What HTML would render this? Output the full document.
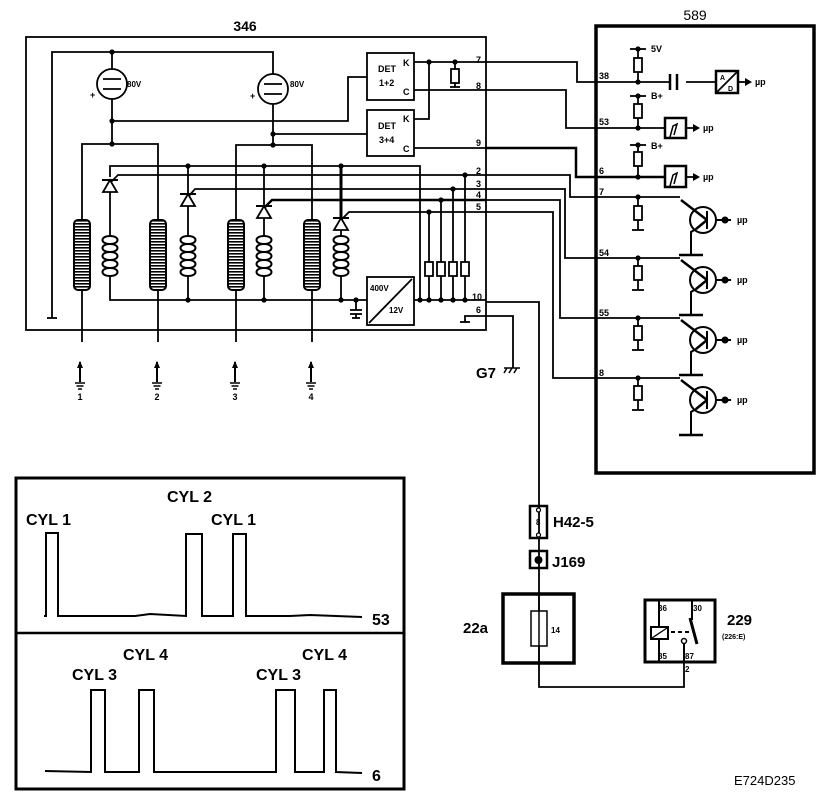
<!DOCTYPE html>
<html><head><meta charset="utf-8"><style>
html,body{margin:0;padding:0;background:#fff;}
svg{display:block;font-family:"Liberation Sans",Arial,sans-serif;}
text{fill:#000;}
</style></head><body>
<svg width="832" height="808" viewBox="0 0 832 808" xmlns="http://www.w3.org/2000/svg">
<defs>
<pattern id="hl" width="4" height="3" patternUnits="userSpaceOnUse"><rect width="4" height="3" fill="#fff"/><rect y="0" width="4" height="1.6" fill="#000"/></pattern>
<g id="lcoil"><rect x="-8" y="0" width="16" height="70" rx="4" fill="url(#hl)" stroke="#000" stroke-width="2"/></g>
<g id="scoil" fill="none" stroke="#000" stroke-width="2">
<path d="M0,0 C-10,0 -10,8 0,8 C-10,8 -10,16 0,16 C-10,16 -10,24 0,24 C-10,24 -10,32 0,32 C-10,32 -10,40 0,40 M0,0 C10,0 10,8 0,8 C10,8 10,16 0,16 C10,16 10,24 0,24 C10,24 10,32 0,32 C10,32 10,40 0,40"/>
</g>
<g id="diode"><path d="M-7,6 L7,6 L0,-6 Z" fill="#fff" stroke="#000" stroke-width="1.8"/><line x1="-8" y1="-6" x2="8" y2="-6" stroke="#000" stroke-width="2"/></g>
<g id="res"><rect x="-4" y="0" width="8" height="14" fill="#fff" stroke="#000" stroke-width="1.8"/></g>
<g id="dot"><circle r="2.6" fill="#000"/></g>
<g id="trans" fill="none" stroke="#000" stroke-width="2"><circle r="13"/><line x1="4" y1="-9" x2="4" y2="9"/><line x1="-22" y1="-20" x2="4" y2="0" stroke-width="2.5"/><line x1="4" y1="0" x2="-7" y2="9" stroke-width="2.5"/><path d="M-7,9 L-12,12 L-12,35" /><line x1="-24" y1="35" x2="0" y2="35" stroke-width="2.5"/><line x1="13" y1="0" x2="28" y2="0"/><circle cx="22" cy="0" r="2.5" fill="#000"/></g>
<g id="gnd"><line x1="0" y1="0" x2="0" y2="-20" stroke="#000" stroke-width="2"/><path d="M-3,-14 L0,-21 L3,-14Z" fill="#000"/><line x1="-5" y1="1" x2="5" y2="1" stroke="#000" stroke-width="1.5"/><line x1="-3.5" y1="4" x2="3.5" y2="4" stroke="#000" stroke-width="1.5"/><line x1="-2" y1="7" x2="2" y2="7" stroke="#000" stroke-width="1.5"/></g>
</defs>

<!-- 346 box -->
<text x="245" y="31" font-size="14" font-weight="bold" text-anchor="middle">346</text>
<rect x="26" y="37" width="460" height="293" fill="none" stroke="#000" stroke-width="1.8"/>

<g fill="none" stroke="#000" stroke-width="1.8">
<path d="M52,318 L52,52 L273,52 L273,74"/>
<line x1="47" y1="318" x2="57" y2="318"/>
<line x1="112" y1="52" x2="112" y2="69"/>
<line x1="112" y1="99" x2="112" y2="144"/>
<line x1="273" y1="104" x2="273" y2="145"/>
<path d="M112,121 L348,121 L348,77 L367,77"/>
<path d="M273,134 L367,134"/>
<path d="M82,220 L82,144 L158,144 L158,220"/>
<path d="M236,220 L236,145 L312,145 L312,220"/>
<line x1="82" y1="290" x2="82" y2="342"/><line x1="158" y1="290" x2="158" y2="342"/><line x1="236" y1="290" x2="236" y2="342"/><line x1="312" y1="290" x2="312" y2="342"/>
<!-- top 166 rail -->
<path d="M110,177 L110,166 L420,166 L420,300"/>
<line x1="188" y1="166" x2="188" y2="194"/>
<line x1="264" y1="166" x2="264" y2="206"/>
<line x1="341" y1="166" x2="341" y2="218" stroke-width="3"/>
<!-- diode lines -->
<path d="M110,183 L118,175 L486,175"/>
<path d="M188,197 L195,189 L486,189"/>
<path d="M264,208 L272,200 L486,200" stroke-width="2.5"/>
<path d="M341,220 L349,212 L486,212"/>
<line x1="110" y1="189" x2="110" y2="236"/>
<line x1="188" y1="203" x2="188" y2="236"/>
<line x1="264" y1="214" x2="264" y2="236"/>
<line x1="341" y1="226" x2="341" y2="236"/>
<!-- bottom rail -->
<path d="M110,276 L110,300 L367,300"/>
<line x1="188" y1="276" x2="188" y2="300"/><line x1="264" y1="276" x2="264" y2="300"/><line x1="341" y1="276" x2="341" y2="300"/>
<path d="M414,300 L486,300"/>
<line x1="356" y1="300" x2="356" y2="310"/><line x1="350" y1="310" x2="362" y2="310"/><line x1="350" y1="314" x2="362" y2="314"/><line x1="356" y1="314" x2="356" y2="318"/><line x1="352" y1="318" x2="360" y2="318"/>
<line x1="429" y1="212" x2="429" y2="300"/><line x1="441" y1="200" x2="441" y2="300"/><line x1="453" y1="189" x2="453" y2="300"/><line x1="465" y1="175" x2="465" y2="300"/>
<!-- DET -->
<rect x="367" y="53" width="47" height="47"/>
<rect x="367" y="110" width="47" height="46"/>
<path d="M414,62 L486,62"/><path d="M429,62 L429,119 L414,119"/>
<line x1="455" y1="62" x2="455" y2="70"/><line x1="455" y1="82" x2="455" y2="87"/><line x1="450" y1="87" x2="460" y2="87"/>
<line x1="414" y1="90" x2="486" y2="90"/>
<line x1="414" y1="148" x2="486" y2="148"/>
<!-- converter -->
<rect x="367" y="277" width="47" height="48"/><line x1="369" y1="323" x2="412" y2="279"/>
<!-- pin 6 ground -->
<path d="M465,322 L465,316 L513,316 L513,368"/><line x1="460" y1="322" x2="470" y2="322"/>
</g>
<!-- tubes -->
<g fill="#fff" stroke="#000" stroke-width="1.8">
<circle cx="112" cy="84" r="15"/><circle cx="273" cy="89" r="15"/>
</g>
<g stroke="#000" stroke-width="1.8"><line x1="103" y1="79" x2="121" y2="79"/><line x1="103" y1="89" x2="121" y2="89"/><line x1="264" y1="84" x2="282" y2="84"/><line x1="264" y1="94" x2="282" y2="94"/></g>
<text x="127" y="87" font-size="8" font-weight="bold">80V</text><text x="290" y="87" font-size="8" font-weight="bold">80V</text>
<text x="90" y="98" font-size="9" font-weight="bold">+</text><text x="250" y="99" font-size="9" font-weight="bold">+</text>
<!-- coils -->
<use href="#lcoil" x="82" y="220"/><use href="#lcoil" x="158" y="220"/><use href="#lcoil" x="236" y="220"/><use href="#lcoil" x="312" y="220"/>
<use href="#scoil" x="110" y="236"/><use href="#scoil" x="188" y="236"/><use href="#scoil" x="264" y="236"/><use href="#scoil" x="341" y="236"/>
<use href="#diode" x="110" y="186"/><use href="#diode" x="188" y="200"/><use href="#diode" x="264" y="212"/><use href="#diode" x="341" y="224"/>
<use href="#res" x="429" y="262"/><use href="#res" x="441" y="262"/><use href="#res" x="453" y="262"/><use href="#res" x="465" y="262"/>
<use href="#res" x="455" y="69"/>
<g>
<use href="#dot" x="112" y="52"/><use href="#dot" x="112" y="121"/><use href="#dot" x="112" y="144"/><use href="#dot" x="273" y="134"/><use href="#dot" x="273" y="145"/>
<use href="#dot" x="188" y="166"/><use href="#dot" x="264" y="166"/><use href="#dot" x="341" y="166"/>
<use href="#dot" x="188" y="300"/><use href="#dot" x="264" y="300"/><use href="#dot" x="341" y="300"/><use href="#dot" x="356" y="300"/>
<use href="#dot" x="420" y="300"/><use href="#dot" x="429" y="300"/><use href="#dot" x="441" y="300"/><use href="#dot" x="453" y="300"/><use href="#dot" x="465" y="300"/>
<use href="#dot" x="429" y="212"/><use href="#dot" x="441" y="200"/><use href="#dot" x="453" y="189"/><use href="#dot" x="465" y="175"/>
<use href="#dot" x="429" y="62"/><use href="#dot" x="455" y="62"/>
</g>
<g font-size="9" font-weight="bold">
<text x="378" y="72">DET</text><text x="379" y="86">1+2</text><text x="403" y="66">K</text><text x="403" y="95">C</text>
<text x="378" y="129">DET</text><text x="379" y="143">3+4</text><text x="403" y="122">K</text><text x="403" y="152">C</text>
<text x="370" y="291" font-size="8">400V</text><text x="389" y="313" font-size="8">12V</text>
<text x="476" y="63">7</text><text x="476" y="89">8</text><text x="476" y="146">9</text>
<text x="476" y="174">2</text><text x="476" y="187">3</text><text x="476" y="198">4</text><text x="476" y="210">5</text>
<text x="472" y="300">10</text><text x="476" y="313">6</text>
</g>
<!-- cylinder grounds -->
<use href="#gnd" x="80" y="382"/><use href="#gnd" x="157" y="382"/><use href="#gnd" x="235" y="382"/><use href="#gnd" x="311" y="382"/>
<g font-size="9" font-weight="bold" text-anchor="middle"><text x="80" y="400">1</text><text x="157" y="400">2</text><text x="235" y="400">3</text><text x="311" y="400">4</text></g>
<text x="476" y="378" font-size="15" font-weight="bold">G7</text>
<path d="M504,368 L520,368 M507,368 L504,373 M512,368 L509,373 M517,368 L514,373" stroke="#000" stroke-width="1.5" fill="none"/>

<!-- 589 -->
<text x="695" y="20" font-size="14" text-anchor="middle">589</text>
<rect x="596" y="26" width="218" height="447" fill="none" stroke="#000" stroke-width="3.5"/>
<g fill="none" stroke="#000" stroke-width="1.8">
<path d="M486,62 L577,62 L577,82 L670,82"/><line x1="686" y1="82" x2="716" y2="82"/>
<line x1="670" y1="74" x2="670" y2="90" stroke-width="2.5"/><line x1="677" y1="74" x2="677" y2="90" stroke-width="2.5"/>
<rect x="716" y="71" width="22" height="22" stroke-width="2.5"/><line x1="717" y1="92" x2="737" y2="72"/>
<path d="M486,90 L566,90 L566,128 L665,128"/>
<rect x="665" y="118" width="21" height="20" stroke-width="2.5"/>
<path d="M486,148 L576,148 L576,177 L665,177" stroke-width="2.5"/>
<rect x="665" y="166" width="21" height="21" stroke-width="2.5"/>
<path d="M486,175 L570,175 L570,197 L680,197"/>
<path d="M486,189 L565,189 L565,258 L680,258"/>
<path d="M486,200 L560,200 L560,318 L680,318"/>
<path d="M486,212 L553,212 L553,378 L680,378"/>
<line x1="630" y1="49" x2="646" y2="49"/><line x1="638" y1="49" x2="638" y2="82"/>
<line x1="630" y1="96" x2="646" y2="96"/><line x1="638" y1="96" x2="638" y2="128"/>
<line x1="630" y1="145" x2="646" y2="145"/><line x1="638" y1="145" x2="638" y2="177"/>
<line x1="638" y1="197" x2="638" y2="230"/><line x1="632" y1="230" x2="644" y2="230"/>
<line x1="638" y1="258" x2="638" y2="290"/><line x1="632" y1="290" x2="644" y2="290"/>
<line x1="638" y1="318" x2="638" y2="350"/><line x1="632" y1="350" x2="644" y2="350"/>
<line x1="638" y1="378" x2="638" y2="410"/><line x1="632" y1="410" x2="644" y2="410"/>
<path d="M670,137 L673,126 L677,124 L674,135" stroke-width="1.5"/>
<path d="M670,186 L673,175 L677,173 L674,184" stroke-width="1.5"/>
<line x1="738" y1="82" x2="745" y2="82"/><line x1="686" y1="128" x2="693" y2="128"/><line x1="686" y1="177" x2="693" y2="177"/>
<!-- 10 -> H42 -->
<path d="M486,302 L539,302 L539,687 L684,687 L684,662"/>
</g>
<g fill="#000"><path d="M745,78 L752,82 L745,86Z"/><path d="M693,124 L700,128 L693,132Z"/><path d="M693,173 L700,177 L693,181Z"/></g>
<use href="#res" x="638" y="58"/><use href="#res" x="638" y="104"/><use href="#res" x="638" y="152"/>
<use href="#res" x="638" y="206"/><use href="#res" x="638" y="266"/><use href="#res" x="638" y="326"/><use href="#res" x="638" y="386"/>
<use href="#dot" x="638" y="49"/><use href="#dot" x="638" y="82"/><use href="#dot" x="638" y="96"/><use href="#dot" x="638" y="128"/><use href="#dot" x="638" y="145"/><use href="#dot" x="638" y="177"/>
<use href="#dot" x="638" y="197"/><use href="#dot" x="638" y="258"/><use href="#dot" x="638" y="318"/><use href="#dot" x="638" y="378"/>
<use href="#trans" x="703" y="220"/><use href="#trans" x="703" y="280"/><use href="#trans" x="703" y="340"/><use href="#trans" x="703" y="400"/>
<g font-size="9" font-weight="bold">
<text x="651" y="52">5V</text><text x="651" y="99">B+</text><text x="651" y="149">B+</text>
<text x="599" y="79">38</text><text x="599" y="125">53</text><text x="599" y="174">6</text><text x="599" y="195">7</text>
<text x="599" y="256">54</text><text x="599" y="316">55</text><text x="599" y="376">8</text>
<text x="755" y="85">µp</text><text x="703" y="131">µp</text><text x="703" y="180">µp</text>
<text x="737" y="223">µp</text><text x="737" y="283">µp</text><text x="737" y="343">µp</text><text x="737" y="403">µp</text>
<text x="720" y="80" font-size="7">A</text><text x="728" y="91" font-size="7">D</text>
</g>

<!-- H42 / J169 / 22a / 229 -->
<g fill="none" stroke="#000" stroke-width="2.5">
<rect x="530" y="506" width="17" height="32"/>
<rect x="530" y="551" width="17" height="17"/>
<rect x="503" y="594" width="71" height="69" stroke-width="3.5"/>
<rect x="645" y="600" width="70" height="62" stroke-width="3"/>
</g>
<rect x="531" y="611" width="16" height="35" fill="#fff" stroke="#000" stroke-width="1.5"/>
<line x1="539" y1="594" x2="539" y2="663" stroke="#000" stroke-width="1.5"/>
<circle cx="538.5" cy="510" r="2" fill="#fff" stroke="#000" stroke-width="1.2"/><circle cx="538.5" cy="535" r="2" fill="#fff" stroke="#000" stroke-width="1.2"/>
<circle cx="538.5" cy="560" r="4" fill="#000"/>
<g stroke="#000" stroke-width="2" fill="none">
<line x1="659" y1="600" x2="659" y2="662"/><rect x="651" y="627" width="17" height="12" fill="#fff"/><line x1="652" y1="638" x2="667" y2="628" stroke-width="1.3"/>
<line x1="671" y1="632" x2="690" y2="632" stroke-dasharray="4,3"/>
<line x1="692" y1="600" x2="692" y2="620"/><path d="M690,618 L697,644" stroke-width="3"/>
<circle cx="684" cy="641" r="2.5" stroke-width="1.5"/><line x1="684" y1="644" x2="684" y2="662"/>
</g>
<g font-size="8" font-weight="bold"><text x="658" y="611">36</text><text x="693" y="611">30</text><text x="658" y="659">85</text><text x="685" y="659">87</text><text x="685" y="672">2</text>
<text x="536" y="525" font-size="8">8</text><text x="551" y="633" font-size="8">14</text></g>
<g font-size="15" font-weight="bold"><text x="553" y="527">H42-5</text><text x="552" y="567">J169</text><text x="463" y="633">22a</text><text x="727" y="625">229</text></g>
<text x="722" y="639" font-size="7" font-weight="bold">(226:E)</text>
<text x="734" y="785" font-size="13">E724D235</text>

<!-- waveforms -->
<rect x="16" y="478" width="388" height="311" fill="none" stroke="#000" stroke-width="3"/>
<line x1="16" y1="633" x2="404" y2="633" stroke="#000" stroke-width="2.5"/>
<g fill="none" stroke="#000" stroke-width="2">
<path d="M44,616 L46,616 L46,533 L58,533 L58,616 L135,616 L150,614 L186,616 L186,534 L202,534 L202,616 L233,616 L233,534 L246,534 L246,616 L290,616 L310,615 L362,617"/>
<path d="M45,771 L91,772 L91,690 L105,690 L105,772 L139,772 L139,690 L154,690 L154,772 L276,772 L276,690 L295,690 L295,772 L324,772 L324,690 L336,690 L336,772 L362,773"/>
</g>
<g font-size="16" font-weight="bold">
<text x="26" y="525">CYL 1</text><text x="167" y="502">CYL 2</text><text x="211" y="525">CYL 1</text><text x="372" y="625">53</text>
<text x="123" y="660">CYL 4</text><text x="72" y="680">CYL 3</text><text x="302" y="660">CYL 4</text><text x="256" y="680">CYL 3</text><text x="372" y="781">6</text>
</g>
</svg>
</body></html>
